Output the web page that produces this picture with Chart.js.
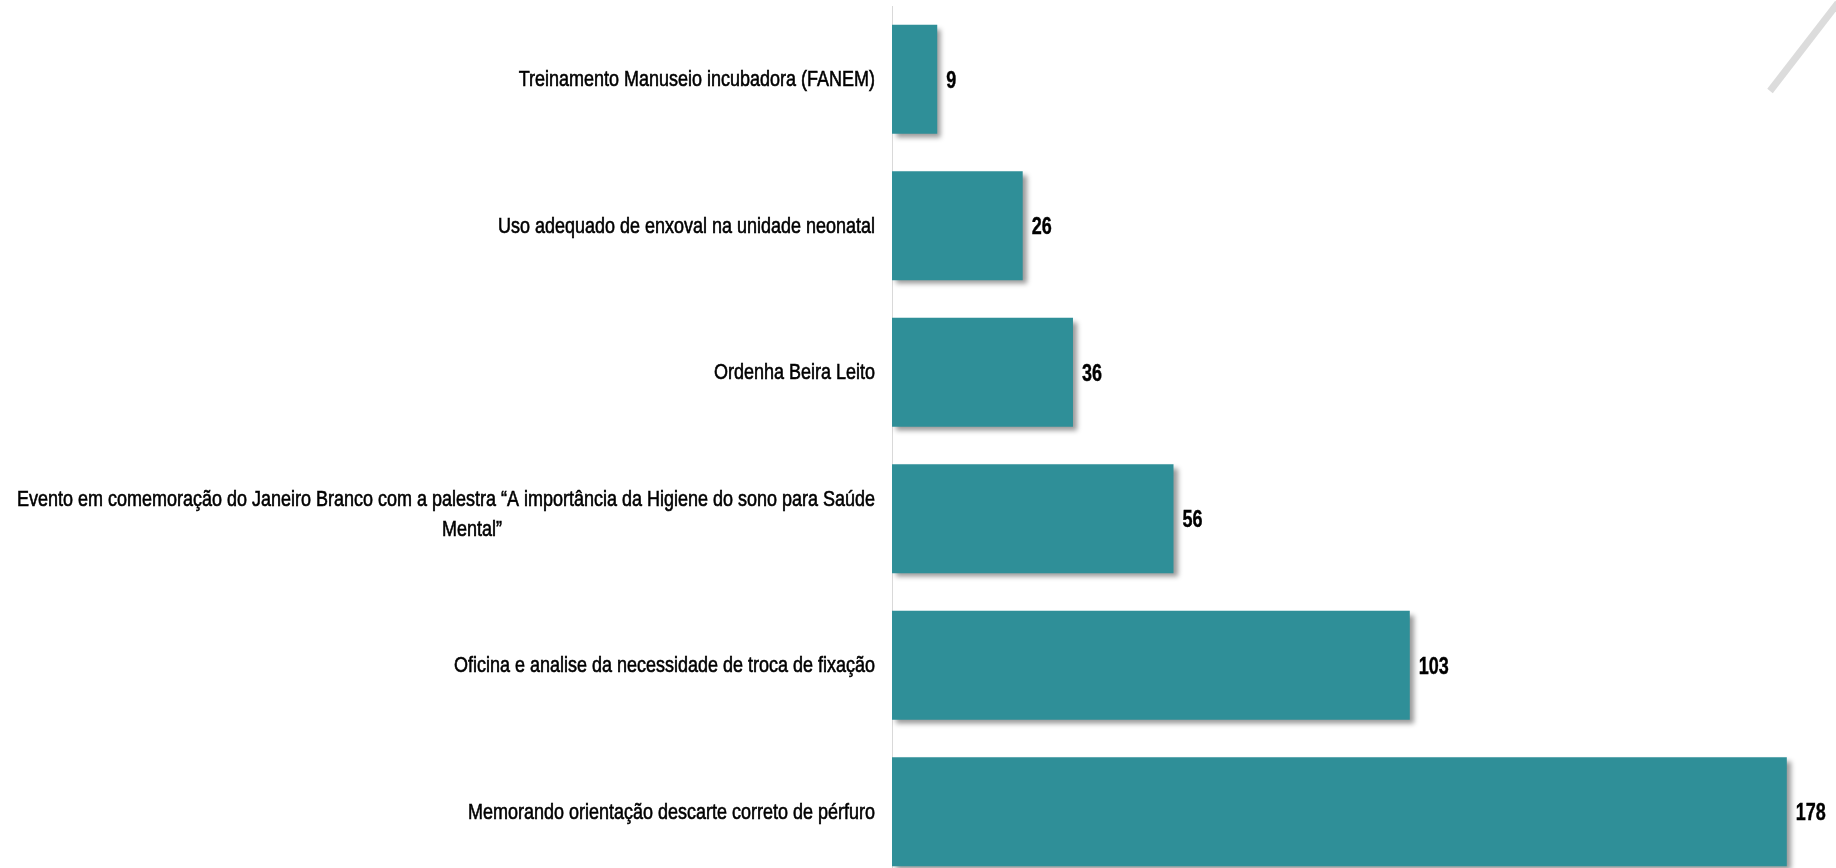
<!DOCTYPE html>
<html><head><meta charset="utf-8">
<script src="https://cdn.jsdelivr.net/npm/chart.js@4/dist/chart.umd.min.js"></script>
<style>
html,body{margin:0;padding:0;background:#fff;overflow:hidden;width:1836px;height:868px}
#wrap{position:absolute;left:0;top:0;width:1836px;height:886px}
</style></head>
<body><div id="wrap"><canvas id="c"></canvas></div>
<script>
const categories = [
  "Treinamento Manuseio incubadora (FANEM)",
  "Uso adequado de enxoval na unidade neonatal",
  "Ordenha Beira Leito",
  ["Evento em comemoração do Janeiro Branco com a palestra \u201CA importância da Higiene do sono para Saúde", "Mental\u201D"],
  "Oficina e analise da necessidade de troca de fixação",
  "Memorando orientação descarte correto de pérfuro"
];
const values = [9, 26, 36, 56, 103, 178];
const xMax = 185;

const barColor = '#2f8f98';
const labelFont = '22px "Liberation Sans", Arial, sans-serif';
const valueFont = 'bold 23px "Liberation Sans", Arial, sans-serif';

const shadowPlugin = {
  id: 'shadow',
  beforeDatasetsDraw(chart) {
    const ctx = chart.ctx;
    ctx.save();
    ctx.shadowColor = 'rgba(0,0,0,0.4)';
    ctx.shadowBlur = 5;
    ctx.shadowOffsetX = 4;
    ctx.shadowOffsetY = 4;
  },
  afterDatasetsDraw(chart) {
    chart.ctx.restore();
  }
};

function drawScaled(ctx, text, x, y, sx, align, stroke) {
  ctx.save();
  ctx.translate(x, y);
  ctx.scale(sx, 1);
  ctx.textAlign = align;
  ctx.fillText(text, 0, 0);
  if (stroke) {
    ctx.lineWidth = stroke;
    ctx.strokeStyle = ctx.fillStyle;
    ctx.strokeText(text, 0, 0);
  }
  ctx.restore();
}

const labelPlugin = {
  id: 'labels',
  afterDraw(chart) {
    const ctx = chart.ctx;
    const y = chart.scales.y, x = chart.scales.x;
    ctx.save();
    ctx.fillStyle = '#000';
    ctx.textBaseline = 'middle';
    // condense text horizontally like the narrow face in the original
    ctx.font = labelFont;
    const sxL = 858 / ctx.measureText(categories[3][0]).width;
    ctx.font = valueFont;
    const sxV = 30 / ctx.measureText('178').width;
    const right = chart.chartArea.left - 17;
    categories.forEach((lab, i) => {
      const cy = y.getPixelForValue(i);
      ctx.font = labelFont;
      if (Array.isArray(lab)) {
        const w = ctx.measureText(lab[0]).width * sxL;
        const cx = right - w / 2;
        const lh = 30;
        lab.forEach((l, k) => {
          drawScaled(ctx, l, cx + (k > 0 ? 26 : 0), cy - 4 - (lab.length - 1) * lh / 2 + k * lh, sxL, 'center', 0.6);
        });
      } else {
        drawScaled(ctx, lab, right, cy + 1, sxL, 'right', 0.6);
      }
      ctx.font = valueFont;
      drawScaled(ctx, String(values[i]), x.getPixelForValue(values[i]) + 9, cy + 2, sxV, 'left', 0.4);
    });
    // decorative diagonal stroke (top right)
    ctx.strokeStyle = '#dcdcdc';
    ctx.lineWidth = 7;
    ctx.lineCap = 'butt';
    ctx.beginPath();
    ctx.moveTo(1838, 3);
    ctx.lineTo(1770, 91);
    ctx.stroke();
    ctx.restore();
  }
};

new Chart(document.getElementById('c'), {
  type: 'bar',
  data: {
    labels: categories,
    datasets: [{
      data: values,
      backgroundColor: barColor,
      borderWidth: 0,
      barPercentage: 0.745,
      categoryPercentage: 1
    }]
  },
  options: {
    indexAxis: 'y',
    responsive: true,
    maintainAspectRatio: false,
    animation: false,
    layout: { padding: { top: 6, bottom: 1, right: 14, left: 0 } },
    plugins: { legend: { display: false }, tooltip: { enabled: false } },
    scales: {
      x: { display: false, min: 0, max: xMax },
      y: {
        ticks: { display: false },
        grid: { display: false },
        border: { display: true, color: '#d9d9d9', width: 1 },
        afterFit(scale) { scale.width = 892; }
      }
    }
  },
  plugins: [shadowPlugin, labelPlugin]
});
</script>
</body></html>
